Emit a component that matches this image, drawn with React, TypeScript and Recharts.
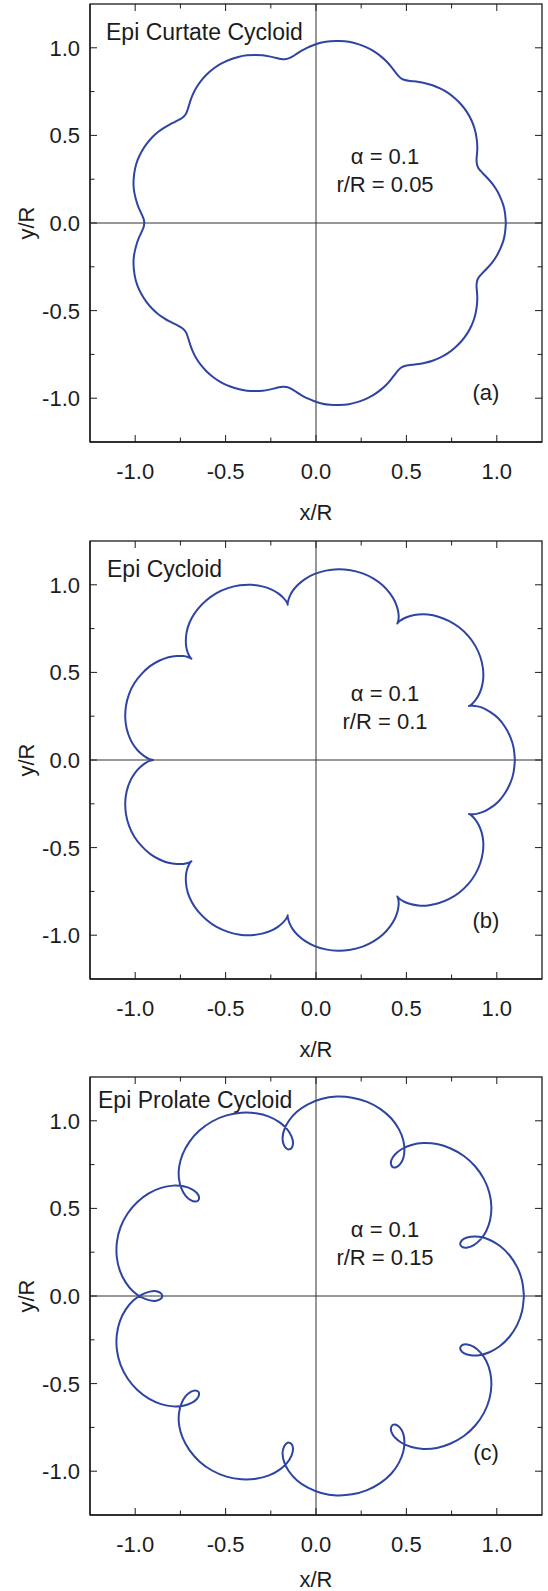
import React from 'react';
import { LineChart, Line, XAxis, YAxis, ReferenceLine } from 'recharts';

// ---------- data ----------
const axisTicks = [-1, -0.75, -0.5, -0.25, 0, 0.25, 0.5, 0.75, 1];
const axisDomain: [number, number] = [-1.25, 1.25];

const panelTitles = ['Epi Curtate Cycloid', 'Epi Cycloid', 'Epi Prolate Cycloid'];
const alphaValues = ['0.1', '0.1', '0.1'];
const ratioValues = ['0.05', '0.1', '0.15'];
const panelTags = ['(a)', '(b)', '(c)'];

// (a) curtate curve, traced counter-clockwise from the rightmost point
const curtatePts: [number, number][] = [
  [1.05, 0], [1.046, .052], [1.036, .102], [1.019, .148], [.999, .188], [.976, .223], [.953, .251], [.932, .274], [.914, .293], [.901, .309],
  [.893, .325], [.889, .343], [.888, .363], [.890, .389], [.892, .420], [.891, .457], [.886, .498], [.876, .542], [.859, .588], [.835, .633],
  [.804, .675], [.768, .712], [.728, .744], [.686, .768], [.644, .786], [.604, .798], [.569, .805], [.538, .809], [.512, .812], [.492, .816],
  [.475, .823], [.461, .834], [.447, .850], [.432, .870], [.413, .895], [.389, .923], [.359, .951], [.323, .978], [.280, 1.002], [.233, 1.021],
  [.182, 1.034], [.130, 1.039], [.079, 1.038], [.031, 1.030], [-.012, 1.016], [-.05, 1], [-.082, .982], [-.108, .965], [-.129, .951], [-.148, .941],
  [-.165, .936], [-.183, .935], [-.204, .938], [-.229, .944], [-.259, .951], [-.295, .957], [-.336, .959], [-.382, .957], [-.430, .948], [-.478, .932],
  [-.525, .909], [-.568, .880], [-.606, .846], [-.638, .809], [-.663, .771], [-.681, .734], [-.694, .700], [-.703, .670], [-.711, .645], [-.718, .626],
  [-.728, .611], [-.741, .599], [-.759, .588], [-.782, .576], [-.810, .562], [-.841, .543], [-.874, .519], [-.907, .488], [-.938, .450], [-.965, .407],
  [-.987, .359], [-1.001, .309], [-1.008, .258], [-1.009, .210], [-1.003, .165], [-.993, .124], [-.982, .090], [-.969, .061], [-.959, .038], [-.952, .018],
  [-.95, 0],
  [-.952, -.018], [-.959, -.038], [-.969, -.061], [-.982, -.090], [-.993, -.124], [-1.003, -.165], [-1.009, -.210], [-1.008, -.258], [-1.001, -.309],
  [-.987, -.359], [-.965, -.407], [-.938, -.450], [-.907, -.488], [-.874, -.519], [-.841, -.543], [-.810, -.562], [-.782, -.576], [-.759, -.588],
  [-.741, -.599], [-.728, -.611], [-.718, -.626], [-.711, -.645], [-.703, -.670], [-.694, -.700], [-.681, -.734], [-.663, -.771], [-.638, -.809],
  [-.606, -.846], [-.568, -.880], [-.525, -.909], [-.478, -.932], [-.430, -.948], [-.382, -.957], [-.336, -.959], [-.295, -.957], [-.259, -.951],
  [-.229, -.944], [-.204, -.938], [-.183, -.935], [-.165, -.936], [-.148, -.941], [-.129, -.951], [-.108, -.965], [-.082, -.982], [-.05, -1],
  [-.012, -1.016], [.031, -1.030], [.079, -1.038], [.130, -1.039], [.182, -1.034], [.233, -1.021], [.280, -1.002], [.323, -.978], [.359, -.951],
  [.389, -.923], [.413, -.895], [.432, -.870], [.447, -.850], [.461, -.834], [.475, -.823], [.492, -.816], [.512, -.812], [.538, -.809],
  [.569, -.805], [.604, -.798], [.644, -.786], [.686, -.768], [.728, -.744], [.768, -.712], [.804, -.675], [.835, -.633], [.859, -.588],
  [.876, -.542], [.886, -.498], [.891, -.457], [.892, -.420], [.890, -.389], [.888, -.363], [.889, -.343], [.893, -.325], [.901, -.309],
  [.914, -.293], [.932, -.274], [.953, -.251], [.976, -.223], [.999, -.188], [1.019, -.148], [1.036, -.102], [1.046, -.052], [1.05, 0],
];

// (b) cycloid curve
const cycloidPts: [number, number][] = [
  [1.1, 0], [1.093, .069], [1.074, .134], [1.044, .191], [1.008, .238], [.967, .272], [.928, .295], [.894, .306], [.867, .310], [.851, .309],
  [.846, .308], [.851, .310], [.863, .320], [.881, .340], [.900, .371], [.916, .413], [.925, .466], [.923, .525], [.909, .588], [.882, .650],
  [.843, .707], [.793, .756], [.737, .793], [.677, .818], [.619, .830], [.566, .830], [.522, .822], [.488, .809], [.465, .795], [.453, .784],
  [.45, .779], [.452, .784], [.456, .800], [.457, .827], [.451, .863], [.436, .906], [.409, .951], [.370, .996], [.318, 1.035], [.258, 1.065],
  [.191, 1.083], [.122, 1.089], [.054, 1.081], [-.007, 1.062], [-.059, 1.034], [-.1, 1], [-.129, .965], [-.146, .933], [-.154, .908], [-.157, .892],
  [-.156, .886], [-.158, .892], [-.165, .906], [-.182, .927], [-.209, .951], [-.248, .974], [-.298, .991], [-.357, 1.000], [-.421, .997], [-.487, .981],
  [-.55, .953], [-.606, .912], [-.653, .863], [-.688, .809], [-.710, .754], [-.719, .702], [-.719, .656], [-.712, .621], [-.702, .596], [-.693, .582],
  [-.689, .578], [-.694, .581], [-.709, .588], [-.735, .593], [-.771, .594], [-.816, .587], [-.865, .568], [-.916, .537], [-.963, .493], [-1.004, .439],
  [-1.034, .376], [-1.051, .309], [-1.055, .241], [-1.047, .178], [-1.028, .121], [-1.002, .075], [-.973, .041], [-.944, .018], [-.921, .005], [-.905, .001],
  [-.9, 0],
  [-.905, -.001], [-.921, -.005], [-.944, -.018], [-.973, -.041], [-1.002, -.075], [-1.028, -.121], [-1.047, -.178], [-1.055, -.241], [-1.051, -.309],
  [-1.034, -.376], [-1.004, -.439], [-.963, -.493], [-.916, -.537], [-.865, -.568], [-.816, -.587], [-.771, -.594], [-.735, -.593], [-.709, -.588],
  [-.694, -.581], [-.689, -.578], [-.693, -.582], [-.702, -.596], [-.712, -.621], [-.719, -.656], [-.719, -.702], [-.710, -.754], [-.688, -.809],
  [-.653, -.863], [-.606, -.912], [-.55, -.953], [-.487, -.981], [-.421, -.997], [-.357, -1.000], [-.298, -.991], [-.248, -.974], [-.209, -.951],
  [-.182, -.927], [-.165, -.906], [-.158, -.892], [-.156, -.886], [-.157, -.892], [-.154, -.908], [-.146, -.933], [-.129, -.965], [-.1, -1],
  [-.059, -1.034], [-.007, -1.062], [.054, -1.081], [.122, -1.089], [.191, -1.083], [.258, -1.065], [.318, -1.035], [.370, -.996], [.409, -.951],
  [.436, -.906], [.451, -.863], [.457, -.827], [.456, -.800], [.452, -.784], [.45, -.779], [.453, -.784], [.465, -.795], [.488, -.809],
  [.522, -.822], [.566, -.830], [.619, -.830], [.677, -.818], [.737, -.793], [.793, -.756], [.843, -.707], [.882, -.650], [.909, -.588],
  [.923, -.525], [.925, -.466], [.916, -.413], [.900, -.371], [.881, -.340], [.863, -.320], [.851, -.310], [.846, -.308], [.851, -.309],
  [.867, -.310], [.894, -.306], [.928, -.295], [.967, -.272], [1.008, -.238], [1.044, -.191], [1.074, -.134], [1.093, -.069], [1.1, 0],
];

// (c) prolate curve (with small loops)
const prolatePts: [number, number][] = [
  [1.15, 0], [1.140, .086], [1.112, .166], [1.069, .234], [1.016, .287], [.959, .321], [.903, .338], [.855, .338], [.820, .327], [.801, .309],
  [.799, .291], [.812, .278], [.838, .277], [.873, .291], [.909, .322], [.941, .370], [.963, .434], [.970, .508], [.959, .588], [.929, .667],
  [.881, .739], [.818, .799], [.745, .842], [.669, .867], [.594, .873], [.528, .862], [.475, .839], [.438, .809], [.418, .778], [.415, .752],
  [.425, .736], [.443, .735], [.464, .751], [.482, .784], [.489, .831], [.483, .888], [.459, .951], [.417, 1.013], [.357, 1.067], [.283, 1.108],
  [.200, 1.132], [.113, 1.138], [.029, 1.124], [-.045, 1.094], [-.106, 1.051], [-.15, 1], [-.176, .948], [-.185, .901], [-.179, .865], [-.165, .843],
  [-.148, .837], [-.133, .848], [-.127, .874], [-.135, .910], [-.159, .951], [-.201, .991], [-.260, 1.024], [-.332, 1.043], [-.412, 1.046], [-.495, 1.031],
  [-.575, .996], [-.645, .944], [-.700, .880], [-.738, .809], [-.757, .737], [-.758, .670], [-.744, .613], [-.721, .572], [-.693, .547], [-.668, .539],
  [-.651, .546], [-.647, .564], [-.659, .588], [-.688, .610], [-.733, .626], [-.791, .630], [-.857, .617], [-.925, .586], [-.988, .537], [-1.042, .471],
  [-1.081, .393], [-1.101, .309], [-1.102, .224], [-1.085, .145], [-1.053, .078], [-1.011, .026], [-.964, -.008], [-.919, -.025], [-.883, -.027], [-.858, -.016],
  [-.85, 0],
  [-.858, .016], [-.883, .027], [-.919, .025], [-.964, .008], [-1.011, -.026], [-1.053, -.078], [-1.085, -.145], [-1.102, -.224], [-1.101, -.309],
  [-1.081, -.393], [-1.042, -.471], [-.988, -.537], [-.925, -.586], [-.857, -.617], [-.791, -.630], [-.733, -.626], [-.688, -.610], [-.659, -.588],
  [-.647, -.564], [-.651, -.546], [-.668, -.539], [-.693, -.547], [-.721, -.572], [-.744, -.613], [-.758, -.670], [-.757, -.737], [-.738, -.809],
  [-.700, -.880], [-.645, -.944], [-.575, -.996], [-.495, -1.031], [-.412, -1.046], [-.332, -1.043], [-.260, -1.024], [-.201, -.991], [-.159, -.951],
  [-.135, -.910], [-.127, -.874], [-.133, -.848], [-.148, -.837], [-.165, -.843], [-.179, -.865], [-.185, -.901], [-.176, -.948], [-.15, -1],
  [-.106, -1.051], [-.045, -1.094], [.029, -1.124], [.113, -1.138], [.200, -1.132], [.283, -1.108], [.357, -1.067], [.417, -1.013], [.459, -.951],
  [.483, -.888], [.489, -.831], [.482, -.784], [.464, -.751], [.443, -.735], [.425, -.736], [.415, -.752], [.418, -.778], [.438, -.809],
  [.475, -.839], [.528, -.862], [.594, -.873], [.669, -.867], [.745, -.842], [.818, -.799], [.881, -.739], [.929, -.667], [.959, -.588],
  [.970, -.508], [.963, -.434], [.941, -.370], [.909, -.322], [.873, -.291], [.838, -.277], [.812, -.278], [.799, -.291], [.801, -.309],
  [.820, -.327], [.855, -.338], [.903, -.338], [.959, -.321], [1.016, -.287], [1.069, -.234], [1.112, -.166], [1.140, -.086], [1.15, 0],
];

const panelCurves = [curtatePts, cycloidPts, prolatePts];

// ---------- layout / style ----------
const W = 548;
const H = 530;
const PLOT_TOP = 4;
const PLOT_H = 438;
const LEFT = 90;
const RIGHT_M = 6;
const PLOT_W = W - LEFT - RIGHT_M;
const chartTops = [0, 536.7, 1072.7];
const titleX = [106, 107, 98];
const titleY = [40, 40, 35];
const tagY = [400, 391, 387];
const xLabelDy = [78, 78, 72];

const FONT = '"Liberation Sans", Arial, Helvetica, sans-serif';
const INK = '#1c1c1c';
const CURVE = '#2f44a2';
const FS = 22;

const isMajor = (v: number) => Math.abs(v * 2 - Math.round(v * 2)) < 1e-6;
const tickLen = (v: number) => (isMajor(v) ? 7 : 4.5);
const fmt = (v: number) => (Math.abs(v) < 1e-9 ? '0.0' : v.toFixed(1));

// bottom axis tick: inward tick at bottom edge + mirrored inward tick at top edge + label
const BottomTick = (p: any) => {
  const { x, y, payload } = p;
  const v = payload.value;
  const L = tickLen(v);
  const top = y - PLOT_H;
  return (
    <g>
      <line x1={x} y1={y} x2={x} y2={y - L} stroke={INK} strokeWidth={1} />
      <line x1={x} y1={top} x2={x} y2={top + L} stroke={INK} strokeWidth={1} />
      {isMajor(v) && (
        <text x={x} y={y + 37} textAnchor="middle" fontFamily={FONT} fontSize={FS} fill={INK}>
          {fmt(v)}
        </text>
      )}
    </g>
  );
};

// left axis tick: inward tick at left edge + mirrored inward tick at right edge + label
const LeftTick = (p: any) => {
  const { x, y, payload } = p;
  const v = payload.value;
  const L = tickLen(v);
  const right = x + PLOT_W;
  return (
    <g>
      <line x1={x} y1={y} x2={x + L} y2={y} stroke={INK} strokeWidth={1} />
      <line x1={right} y1={y} x2={right - L} y2={y} stroke={INK} strokeWidth={1} />
      {isMajor(v) && (
        <text x={x - 10} y={y + 8} textAnchor="end" fontFamily={FONT} fontSize={FS} fill={INK}>
          {fmt(v)}
        </text>
      )}
    </g>
  );
};

const Panel = ({ idx }: { idx: number }) => {
  const data = panelCurves[idx].map(([x, y]) => ({ x, y }));
  const plotBottom = PLOT_TOP + PLOT_H;
  const zeroY = PLOT_TOP + PLOT_H / 2;
  const plotCx = LEFT + PLOT_W / 2;
  return (
    <div style={{ position: 'absolute', left: 0, top: chartTops[idx], width: W, height: H }}>
      <LineChart
        width={W}
        height={H}
        data={data}
        margin={{ top: PLOT_TOP, right: RIGHT_M, bottom: 0, left: 0 }}
      >
        <XAxis
          xAxisId="b"
          type="number"
          dataKey="x"
          domain={axisDomain}
          ticks={axisTicks}
          interval={0}
          height={H - PLOT_TOP - PLOT_H}
          tickSize={0}
          tickMargin={0}
          tickLine={false}
          axisLine={{ stroke: INK, strokeWidth: 1.3 }}
          tick={<BottomTick />}
        />
        <YAxis
          yAxisId="l"
          type="number"
          domain={axisDomain}
          ticks={axisTicks}
          interval={0}
          width={LEFT}
          tickSize={0}
          tickMargin={0}
          tickLine={false}
          axisLine={{ stroke: INK, strokeWidth: 1.3 }}
          tick={<LeftTick />}
        />
        {/* zero lines */}
        <ReferenceLine xAxisId="b" yAxisId="l" x={0} stroke="#333" strokeWidth={1} />
        <ReferenceLine xAxisId="b" yAxisId="l" y={0} stroke="#333" strokeWidth={1} />
        <Line
          xAxisId="b"
          yAxisId="l"
          dataKey="y"
          type="natural"
          stroke={CURVE}
          strokeWidth={2}
          dot={false}
          activeDot={false}
          isAnimationActive={false}
        />
        {/* plot frame */}
        <rect x={LEFT} y={PLOT_TOP} width={PLOT_W} height={PLOT_H} fill="none" stroke={INK} strokeWidth={1.3} />
        <text x={titleX[idx]} y={titleY[idx]} fontFamily={FONT} fontSize={23} fill={INK}>
          {panelTitles[idx]}
        </text>
        <text x={385} y={PLOT_TOP + 160} textAnchor="middle" fontFamily={FONT} fontSize={FS} fill={INK}>
          {'\u03b1 = ' + alphaValues[idx]}
        </text>
        <text x={385} y={PLOT_TOP + 187.7} textAnchor="middle" fontFamily={FONT} fontSize={FS} fill={INK}>
          {'r/R = ' + ratioValues[idx]}
        </text>
        <text x={486} y={tagY[idx]} textAnchor="middle" fontFamily={FONT} fontSize={FS} fill={INK}>
          {panelTags[idx]}
        </text>
        <text x={plotCx} y={plotBottom + xLabelDy[idx]} textAnchor="middle" fontFamily={FONT} fontSize={FS} fill={INK}>
          x/R
        </text>
        <text
          x={26}
          y={zeroY}
          textAnchor="middle"
          dominantBaseline="central"
          transform={`rotate(-90, 26, ${zeroY})`}
          fontFamily={FONT}
          fontSize={FS}
          fill={INK}
        >
          y/R
        </text>
      </LineChart>
    </div>
  );
};

export default function App() {
  return (
    <div style={{ position: 'absolute', left: 0, top: 0, width: W, height: 1591, background: '#fff', overflow: 'hidden' }}>
      {[0, 1, 2].map((i) => (
        <Panel key={i} idx={i} />
      ))}
    </div>
  );
}
